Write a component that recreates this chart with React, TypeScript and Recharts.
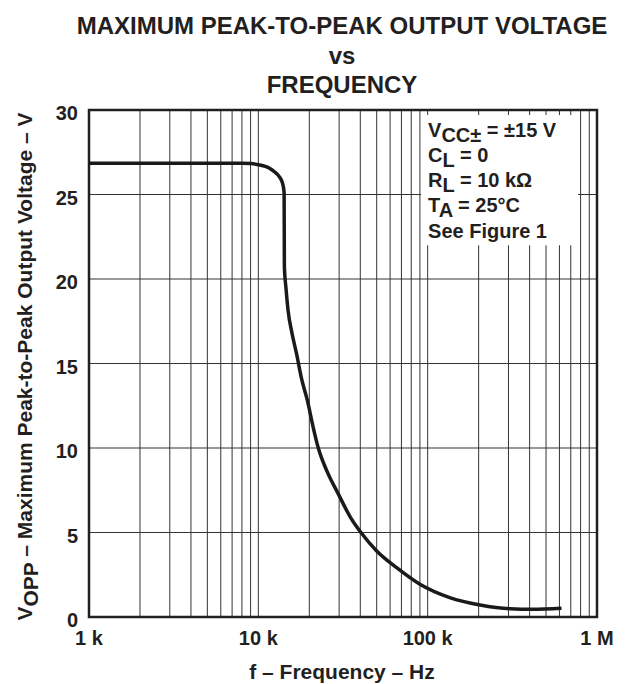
import React from 'react';
import { LineChart, Line, XAxis, YAxis, CartesianGrid, ReferenceArea } from 'recharts';

const FONT = '"Liberation Sans", Arial, Helvetica, sans-serif';
const INK = '#231f20';

// Frequency (Hz) and maximum peak-to-peak output voltage (V)
const freqHz = [1000, 2000, 4000, 6000, 8000, 9000, 10200, 11000, 11700, 12500, 13100, 13600, 13950, 14200, 14250, 14550, 15000, 15800, 16800, 18000, 19500, 21000, 22600, 25500, 29700, 35000, 40800, 50000, 65600, 90000, 135000, 204000, 307000, 417000, 617000];
const voppV = [26.85, 26.85, 26.85, 26.85, 26.85, 26.83, 26.75, 26.66, 26.54, 26.33, 26.14, 25.9, 25.6, 25.1, 20.7, 19.5, 18.1, 16.8, 15.6, 14.1, 12.8, 11.3, 10.0, 8.6, 7.27, 5.9, 4.94, 3.91, 2.92, 1.94, 1.15, 0.71, 0.49, 0.46, 0.52];

// Axis ticks
const xTicks = [1000, 2000, 3000, 4000, 5000, 6000, 7000, 8000, 9000, 10000, 20000, 30000, 40000, 50000, 60000, 70000, 80000, 90000, 100000, 200000, 300000, 400000, 500000, 600000, 700000, 800000, 900000, 1000000];
const xTickLabels: Record<number, string> = { 1000: '1 k', 10000: '10 k', 100000: '100 k', 1000000: '1 M' };
const yTicks = [0, 5, 10, 15, 20, 25, 30];

// Conditions box extent (data coordinates)
const boxX = [91400, 773000];
const boxY = [22.0, 29.7];

const titleLines = ['MAXIMUM PEAK-TO-PEAK OUTPUT VOLTAGE', 'vs', 'FREQUENCY'];

const data = freqHz.map((f, i) => ({ f, v: voppV[i] }));

const XTick = (props: any) => {
  const { x, y, payload } = props;
  const label = xTickLabels[payload.value];
  if (!label) return null;
  return (
    <text x={x} y={y + 28} textAnchor="middle" fontFamily={FONT} fontWeight="bold" fontSize={20} fill={INK}>
      {label}
    </text>
  );
};

const YTick = (props: any) => {
  const { x, y, payload } = props;
  return (
    <text x={x} y={y + 10} textAnchor="end" fontFamily={FONT} fontWeight="bold" fontSize={20} fill={INK}>
      {payload.value}
    </text>
  );
};

const YLabel = (props: any) => {
  const vb = props.viewBox || { x: 0, y: 110, width: 89, height: 507 };
  const cx = vb.x + 32;
  const cy = vb.y + vb.height / 2 + 3;
  return (
    <text
      x={0}
      y={0}
      transform={`translate(${cx},${cy}) rotate(-90)`}
      textAnchor="middle"
      fontFamily={FONT}
      fontWeight="bold"
      fontSize={21}
      fill={INK}
    >
      <tspan>V</tspan>
      <tspan dy={6}>OPP</tspan>
      <tspan dy={-6}> – Maximum Peak-to-Peak Output Voltage – V</tspan>
    </text>
  );
};

const XLabel = (props: any) => {
  const vb = props.viewBox || { x: 89, y: 617, width: 508, height: 67 };
  return (
    <text x={vb.x + vb.width / 2 - 1} y={vb.y + 62} textAnchor="middle" fontFamily={FONT} fontWeight="bold" fontSize={21} fill={INK}>
      f – Frequency – Hz
    </text>
  );
};

const Conditions = (props: any) => {
  const vb = props.viewBox || { x: 421, y: 115 };
  const x = vb.x + 7;
  const y = vb.y;
  const common = { fontFamily: FONT, fontWeight: 'bold' as const, fontSize: 20, fill: INK };
  return (
    <g>
      <text x={x} y={y + 22} {...common}>
        <tspan>V</tspan>
        <tspan dy={5}>CC±</tspan>
        <tspan dy={-5}> = ±15 V</tspan>
      </text>
      <text x={x} y={y + 47} {...common}>
        <tspan>C</tspan>
        <tspan dy={5}>L</tspan>
        <tspan dy={-5}> = 0</tspan>
      </text>
      <text x={x} y={y + 72} {...common}>
        <tspan>R</tspan>
        <tspan dy={5}>L</tspan>
        <tspan dy={-5}> = 10 kΩ</tspan>
      </text>
      <text x={x} y={y + 97} {...common}>
        <tspan>T</tspan>
        <tspan dy={5}>A</tspan>
        <tspan dy={-5}> = 25°C</tspan>
      </text>
      <text x={x} y={y + 123} {...common}>
        See Figure 1
      </text>
    </g>
  );
};

export default function App() {
  return (
    <div style={{ position: 'absolute', left: 0, top: 0, width: 631, height: 684, background: '#fff' }}>
      <div style={{ position: 'absolute', left: 0, top: 0 }}>
        <LineChart width={631} height={684} data={data} margin={{ top: 110, right: 34, bottom: 0, left: 0 }}>
          <CartesianGrid stroke="#333333" strokeWidth={1} />
          <ReferenceArea x1={boxX[0]} x2={boxX[1]} y1={boxY[0]} y2={boxY[1]} fill="#ffffff" fillOpacity={1} stroke="none" label={<Conditions />} />
          <ReferenceArea x1={1000} x2={1000000} y1={0} y2={30} fill="none" stroke={INK} strokeWidth={2.5} />
          <XAxis
            dataKey="f"
            type="number"
            scale="log"
            domain={[1000, 1000000]}
            ticks={xTicks}
            allowDataOverflow
            height={67}
            tickSize={0}
            tickMargin={0}
            axisLine={false}
            tickLine={false}
            tick={<XTick />}
            interval={0}
            label={<XLabel />}
          />
          <YAxis
            type="number"
            domain={[0, 30]}
            ticks={yTicks}
            width={89}
            tickSize={0}
            tickMargin={11}
            axisLine={false}
            tickLine={false}
            tick={<YTick />}
            interval={0}
            label={<YLabel />}
          />
          <Line type="monotoneX" dataKey="v" stroke="#1a1a1a" strokeWidth={3.5} dot={false} isAnimationActive={false} />
        </LineChart>
      </div>
      <svg width={631} height={100} style={{ position: 'absolute', left: 0, top: 0, pointerEvents: 'none' }}>
        {titleLines.map((t, i) => (
          <text key={i} x={342} y={34 + i * 29.5} textAnchor="middle" fontFamily={FONT} fontWeight="bold" fontSize={24} fill={INK}>
            {t}
          </text>
        ))}
      </svg>
    </div>
  );
}
